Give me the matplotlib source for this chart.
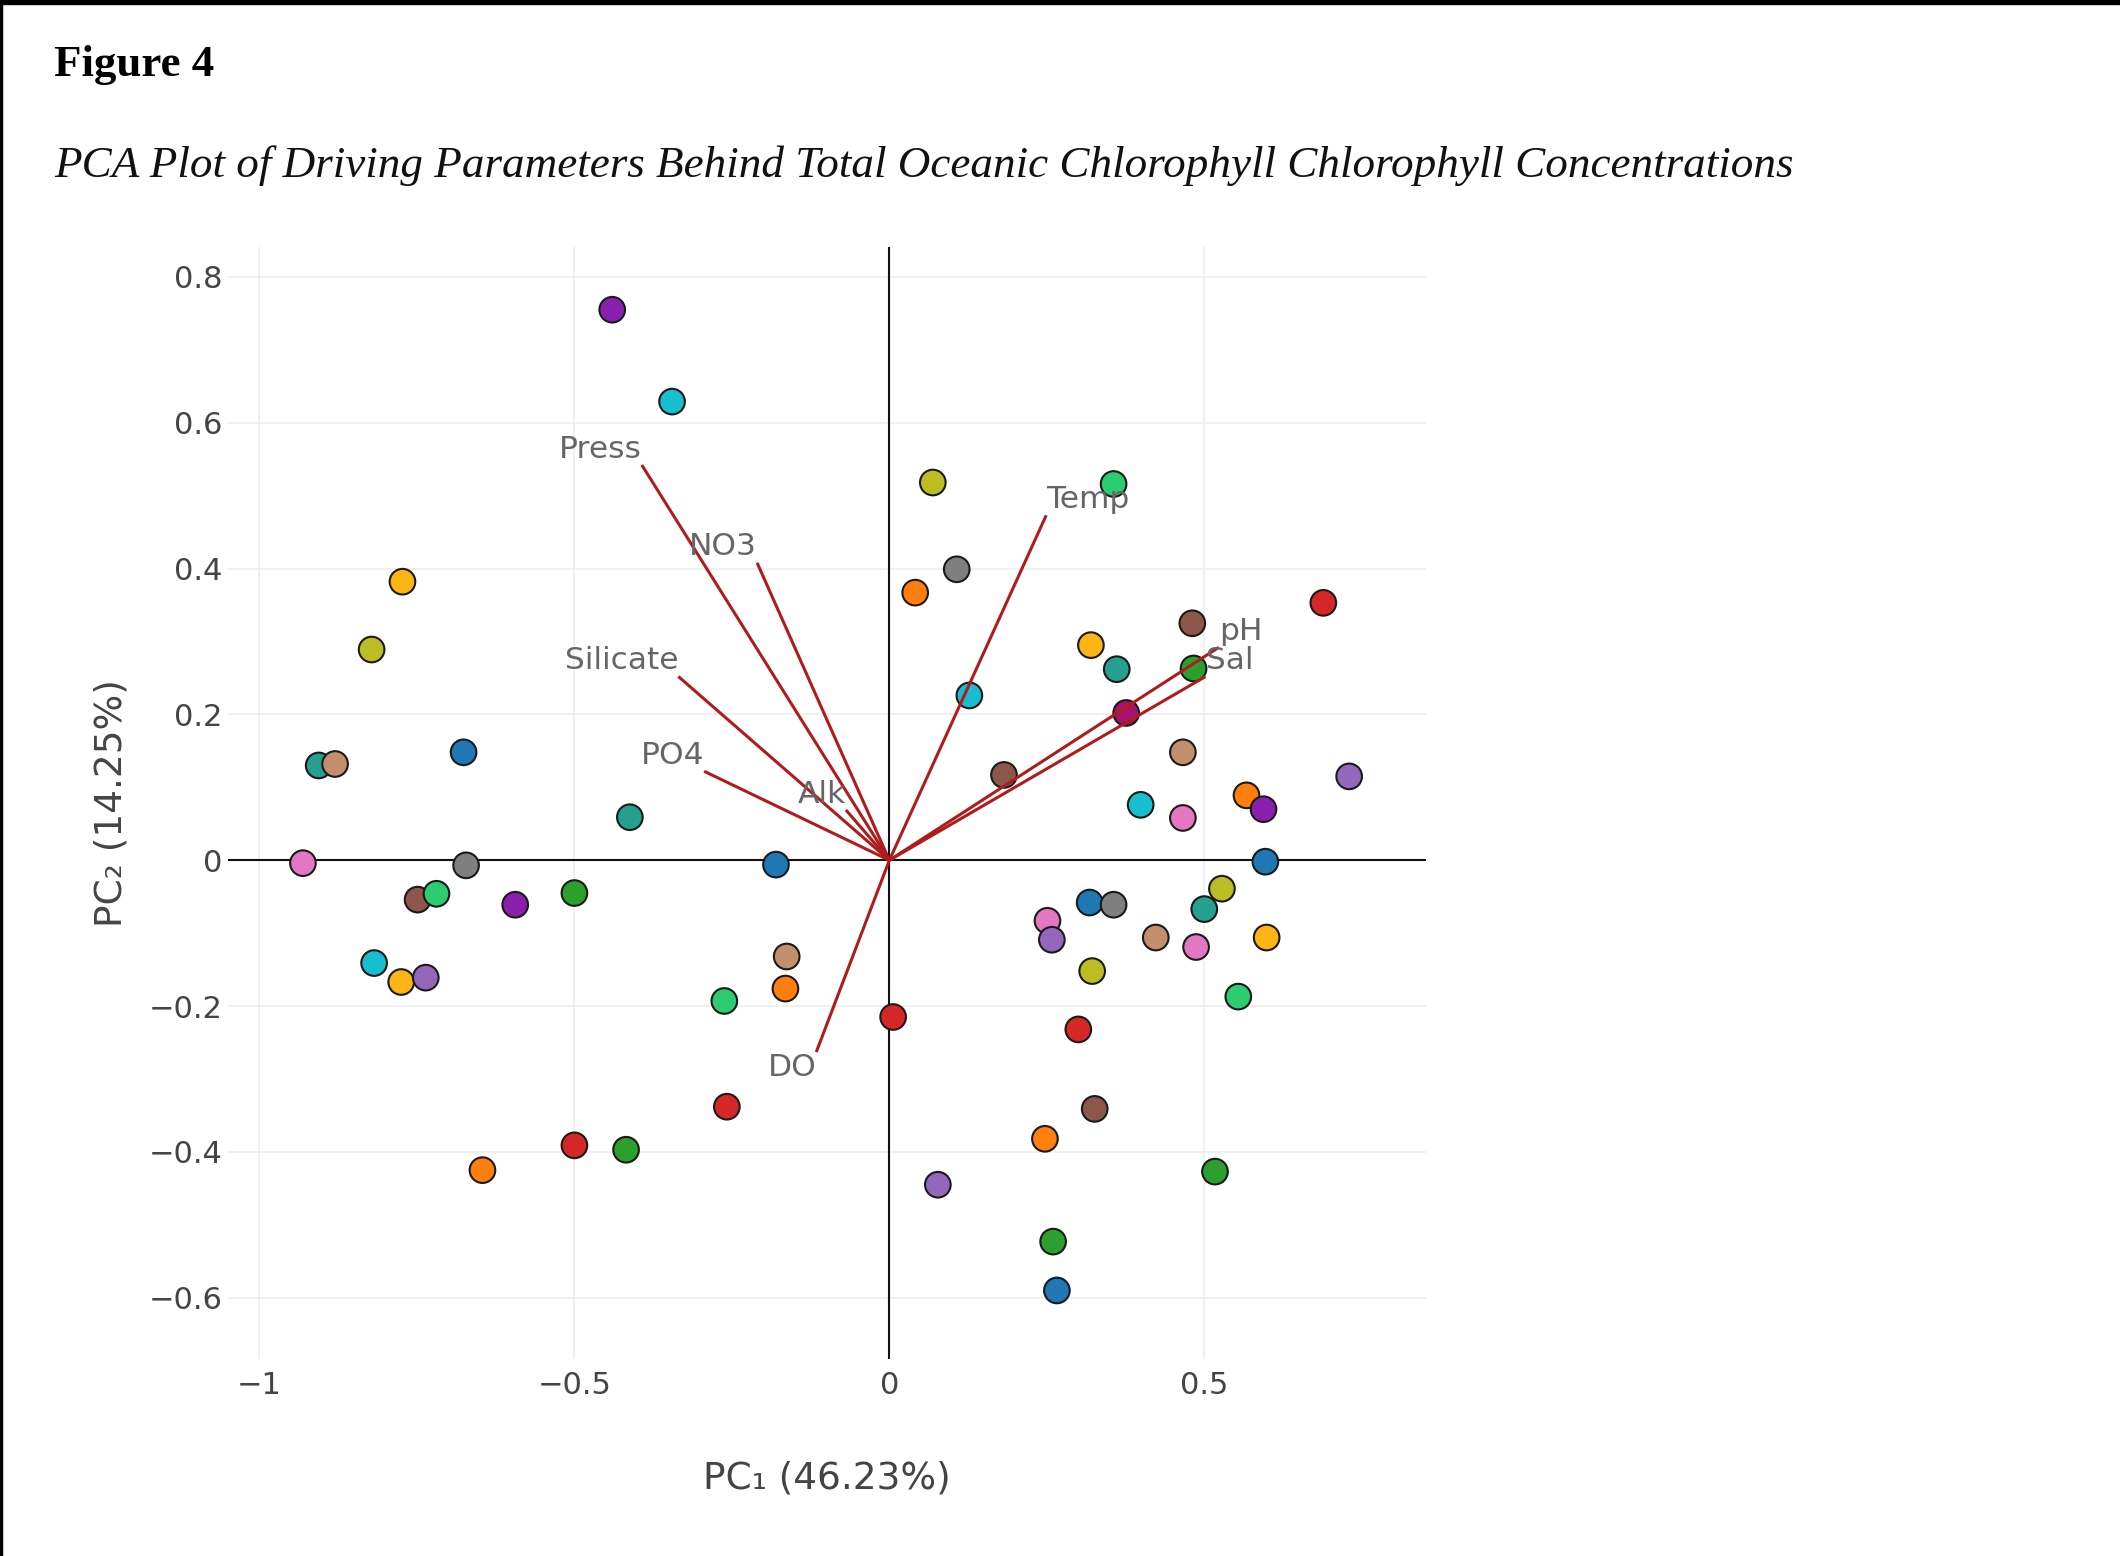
import numpy as np
import matplotlib
matplotlib.use("Agg")
import matplotlib.pyplot as plt
from matplotlib.patches import Rectangle
from matplotlib.ticker import FixedLocator, FuncFormatter

# sample scores on the first two components
pc1 = [-0.44, -0.345, -0.773, -0.822, -0.906, -0.88, -0.676, -0.931, -0.672, -0.749,
       -0.719, -0.594, -0.50, -0.412, -0.18, -0.818, -0.775, -0.736, -0.163, -0.165,
       -0.262, 0.006, -0.258, -0.50, -0.418, -0.646, 0.077, 0.069, 0.356, 0.107,
       0.041, 0.127, 0.32, 0.361, 0.481, 0.483, 0.376, 0.689, 0.182, 0.466,
       0.399, 0.466, 0.567, 0.594, 0.73, 0.597, 0.528, 0.50, 0.318, 0.356,
       0.251, 0.258, 0.423, 0.487, 0.599, 0.322, 0.554, 0.30, 0.326, 0.247,
       0.517, 0.26, 0.266]
pc2 = [0.755, 0.629, 0.382, 0.289, 0.13, 0.132, 0.148, -0.004, -0.007, -0.054,
       -0.046, -0.061, -0.045, 0.059, -0.006, -0.141, -0.167, -0.161, -0.132, -0.176,
       -0.193, -0.215, -0.338, -0.391, -0.397, -0.425, -0.445, 0.518, 0.516, 0.399,
       0.367, 0.226, 0.295, 0.262, 0.325, 0.263, 0.202, 0.353, 0.117, 0.148,
       0.076, 0.058, 0.089, 0.07, 0.115, -0.002, -0.039, -0.067, -0.058, -0.061,
       -0.083, -0.109, -0.106, -0.119, -0.106, -0.152, -0.187, -0.232, -0.341, -0.382,
       -0.427, -0.523, -0.59]
groups = ["dpurple", "cyan", "amber", "olive", "teal", "tan", "blue", "pink", "gray", "brown",
          "spring", "dpurple", "green", "teal", "blue", "cyan", "amber", "mpurple", "tan", "orange",
          "spring", "red", "red", "red", "green", "orange", "mpurple", "olive", "spring", "gray",
          "orange", "cyan", "amber", "teal", "brown", "green", "magenta", "red", "brown", "tan",
          "cyan", "pink", "orange", "dpurple", "mpurple", "blue", "olive", "teal", "blue", "gray",
          "pink", "mpurple", "tan", "pink", "amber", "olive", "spring", "red", "brown", "orange",
          "green", "green", "blue"]

palette = {"blue": "#1f77b4", "orange": "#ff7f0e", "green": "#2ca02c", "red": "#d62728",
           "mpurple": "#9467bd", "brown": "#8c564b", "pink": "#e377c2", "gray": "#7f7f7f",
           "olive": "#bcbd22", "cyan": "#17becf", "amber": "#fcb514", "teal": "#26a08e",
           "spring": "#2ecc71", "tan": "#c28e6b", "dpurple": "#8a1fae", "magenta": "#a3126f"}

# variable loadings
var_names = ["Press", "NO3", "Silicate", "PO4", "Alk", "DO", "Temp", "pH", "Sal"]
load_x = [-0.393, -0.21, -0.335, -0.294, -0.069, -0.116, 0.249, 0.523, 0.502]
load_y = [0.542, 0.408, 0.252, 0.122, 0.069, -0.263, 0.473, 0.292, 0.252]

xticks = [-1, -0.5, 0, 0.5]
yticks = [-0.6, -0.4, -0.2, 0, 0.2, 0.4, 0.6, 0.8]

W, H = 2120, 1556
fig = plt.figure(figsize=(W / 100, H / 100), dpi=100)
fig.patch.set_facecolor("white")

ax = fig.add_axes([228 / W, 1 - 1359 / H, (1426 - 228) / W, (1359 - 247) / H])
ax.set_xlim(-1.05, 0.852)
ax.set_ylim(-0.684, 0.841)
for s in ax.spines.values():
    s.set_visible(False)

ax.xaxis.set_major_locator(FixedLocator(xticks))
ax.yaxis.set_major_locator(FixedLocator(yticks))
fmt = FuncFormatter(lambda v, p: ("%g" % round(v, 2)).replace("-", "\u2212"))
ax.xaxis.set_major_formatter(fmt)
ax.yaxis.set_major_formatter(fmt)
ax.tick_params(length=0, labelsize=22, colors="#444444")
ax.tick_params(axis="x", pad=9)
ax.tick_params(axis="y", pad=4)
ax.grid(True, color="#ececec", lw=1.1, zorder=0)
ax.set_axisbelow(True)

ax.axhline(0, color="#111111", lw=1.5, zorder=1)
ax.axvline(0, color="#111111", lw=1.5, zorder=1)

cols = [palette[g] for g in groups]
ax.scatter(pc1, pc2, s=340, c=cols, edgecolors="#1a1a1a", linewidths=1.5, zorder=3)

for name, lx, ly in zip(var_names, load_x, load_y):
    ax.plot([0, lx], [0, ly], color="#b01c1c", lw=2.2, zorder=4, solid_capstyle="butt")
    ha = "right" if lx < 0 else "left"
    va = "bottom" if ly > 0 else "top"
    ax.annotate(name, (lx, ly), xytext=(0, 1 if ly > 0 else -1), textcoords="offset points",
                ha=ha, va=va, fontsize=22.5, color="#666666", zorder=5)

ax.set_xlabel("PC\u2081 (46.23%)", fontsize=27, color="#444444", labelpad=43)
ax.set_ylabel("PC\u2082 (14.25%)", fontsize=27, color="#444444", labelpad=14)

# heading texts, sized to the reference width
t1 = fig.text(54 / W, 1 - 76 / H, "Figure 4", family="Liberation Serif", weight="bold",
              fontsize=30, color="black", va="baseline")
t2 = fig.text(54 / W, 1 - 177 / H,
              "PCA Plot of Driving Parameters Behind Total Oceanic Chlorophyll Chlorophyll Concentrations",
              family="Liberation Serif", style="italic", fontsize=30, color="#111111", va="baseline")
r = fig.canvas.get_renderer()
for t, target in ((t1, 160), (t2, 1739)):
    w = t.get_window_extent(r).width
    t.set_fontsize(t.get_fontsize() * target / w)

# screenshot borders
fig.patches.append(Rectangle((0, 1 - 4 / H), 1, 4 / H, transform=fig.transFigure,
                             color="black", zorder=10))
fig.patches.append(Rectangle((0, 0), 2 / W, 1, transform=fig.transFigure,
                             color="black", zorder=10))

fig.savefig("out.png", dpi=100)
